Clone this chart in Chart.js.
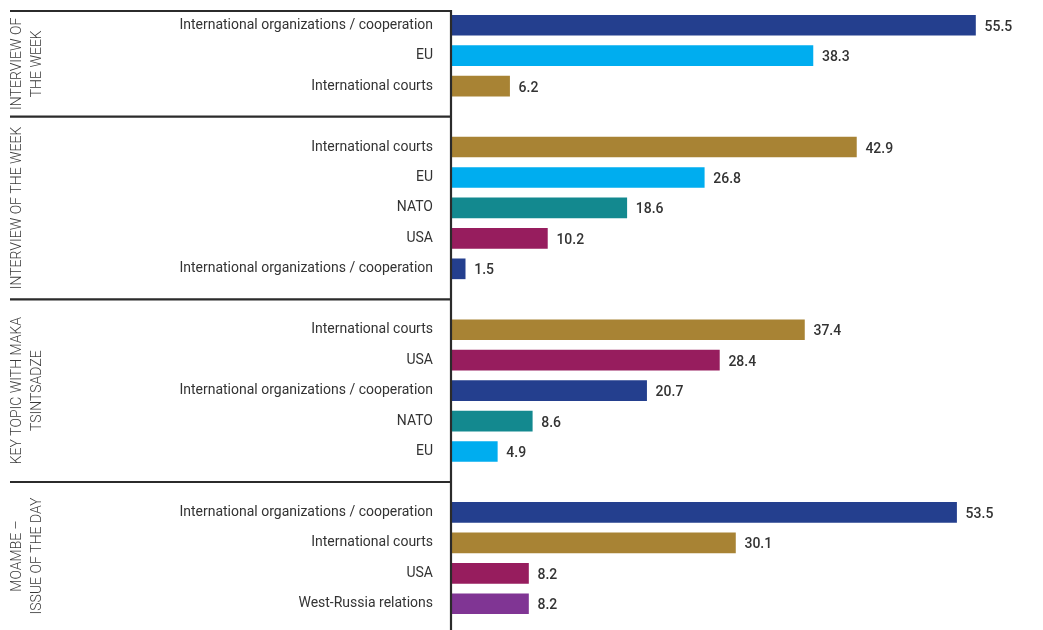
<!DOCTYPE html>
<html>
<head>
<meta charset="utf-8">
<title>Topics by programme</title>
<script src="https://cdn.jsdelivr.net/npm/chart.js@4.4.1/dist/chart.umd.min.js"></script>
<style>
  html, body { margin: 0; padding: 0; background: #fff; }
  #wrap { position: relative; width: 1043px; height: 630px; }
</style>
</head>
<body>
<div id="wrap"><canvas id="topics"></canvas></div>
<script>
// group titles (one entry per line of the rotated label)
var groupTitles = [
  ["INTERVIEW OF", "THE WEEK"],
  ["INTERVIEW OF THE WEEK"],
  ["KEY TOPIC WITH MAKA", "TSINTSADZE"],
  ["MOAMBE \u2013", "ISSUE OF THE DAY"]
];

// topics and shares for each group
var topics1 = ["International organizations / cooperation", "EU", "International courts"];
var values1 = [55.5, 38.3, 6.2];

var topics2 = ["International courts", "EU", "NATO", "USA", "International organizations / cooperation"];
var values2 = [42.9, 26.8, 18.6, 10.2, 1.5];

var topics3 = ["International courts", "USA", "International organizations / cooperation", "NATO", "EU"];
var values3 = [37.4, 28.4, 20.7, 8.6, 4.9];

var topics4 = ["International organizations / cooperation", "International courts", "USA", "West-Russia relations"];
var values4 = [53.5, 30.1, 8.2, 8.2];

var topicColors = {
  "International organizations / cooperation": "#243f8e",
  "EU": "#00adef",
  "International courts": "#a88334",
  "NATO": "#13898f",
  "USA": "#971d5e",
  "West-Russia relations": "#803594"
};

var FONT = "Roboto, 'Liberation Sans', sans-serif";
var INK = "#2b2b2b";

// flatten the groups into one category axis, with an empty slot between groups
var allTopics = [topics1, topics2, topics3, topics4];
var allValues = [values1, values2, values3, values4];
var labels = [];
var values = [];
var colors = [];
var groupSlots = []; // [first, last] index for each group
for (var g = 0; g < allTopics.length; g++) {
  if (g > 0) {
    labels.push("");
    values.push(null);
    colors.push("rgba(0,0,0,0)");
  }
  var first = labels.length;
  for (var i = 0; i < allTopics[g].length; i++) {
    labels.push(allTopics[g][i]);
    values.push(allValues[g][i]);
    colors.push(topicColors[allTopics[g][i]]);
  }
  groupSlots.push([first, labels.length - 1]);
}

// boxes, rotated group titles and value labels
var decorations = {
  id: "decorations",
  afterDraw: function(chart) {
    var ctx = chart.ctx;
    var y = chart.scales.y;
    var area = chart.chartArea;
    var axisX = area.left;
    var boxLeft = 10;

    // horizontal borders: top, then halfway through each empty slot, then bottom
    var edges = [area.top + 1];
    for (var g = 1; g < groupSlots.length; g++) {
      edges.push(y.getPixelForValue(groupSlots[g][0] - 1));
    }
    edges.push(chart.height);

    ctx.save();
    ctx.strokeStyle = INK;
    ctx.lineWidth = 2.2;
    ctx.beginPath();
    for (var e = 0; e < edges.length - 1; e++) {
      ctx.moveTo(boxLeft, edges[e]);
      ctx.lineTo(axisX, edges[e]);
    }
    ctx.moveTo(axisX, edges[0] - 1);
    ctx.lineTo(axisX, chart.height);
    ctx.stroke();

    // group titles
    ctx.fillStyle = "#3a3a3a";
    ctx.font = "300 14px " + FONT;
    ctx.textAlign = "center";
    ctx.textBaseline = "middle";
    for (var k = 0; k < groupTitles.length; k++) {
      var mid = (edges[k] + edges[k + 1]) / 2;
      ctx.save();
      ctx.translate(0, mid);
      ctx.rotate(-Math.PI / 2);
      for (var l = 0; l < groupTitles[k].length; l++) {
        ctx.fillText(groupTitles[k][l], 0, 17 + l * 20);
      }
      ctx.restore();
    }

    // value labels at the end of each bar
    var meta = chart.getDatasetMeta(0);
    ctx.fillStyle = "#333";
    ctx.font = "500 14px " + FONT;
    ctx.textAlign = "left";
    meta.data.forEach(function(bar, idx) {
      var v = values[idx];
      if (v === null) return;
      ctx.fillText(v.toFixed(1), bar.x + 9, bar.y + 2);
    });
    ctx.restore();
  }
};

//get canvas
var ctx1 = document.getElementById("topics").getContext("2d");

var chart = new Chart(ctx1, {
  type: "bar",
  data: {
    labels: labels,
    datasets: [
      {
        data: values,
        backgroundColor: colors,
        borderWidth: 0,
        barThickness: 20
      }
    ]
  },
  options: {
    indexAxis: "y",
    responsive: true,
    maintainAspectRatio: false,
    animation: false,
    layout: { padding: { top: 10, bottom: 11, right: 25, left: 0 } },
    plugins: {
      legend: { display: false },
      tooltip: { enabled: false }
    },
    scales: {
      x: {
        display: false,
        min: 0,
        max: 60
      },
      y: {
        grid: { display: false, drawTicks: false },
        border: { display: false },
        afterFit: function(scale) {
          scale.width = 451;
          // tick padding would otherwise push the plot down from the top
          scale.paddingTop = 0;
          scale.paddingBottom = 0;
        },
        ticks: {
          padding: 18,
          color: "#333",
          autoSkip: false,
          font: { family: FONT, size: 14 }
        }
      }
    }
  },
  plugins: [decorations]
});
</script>
</body>
</html>
